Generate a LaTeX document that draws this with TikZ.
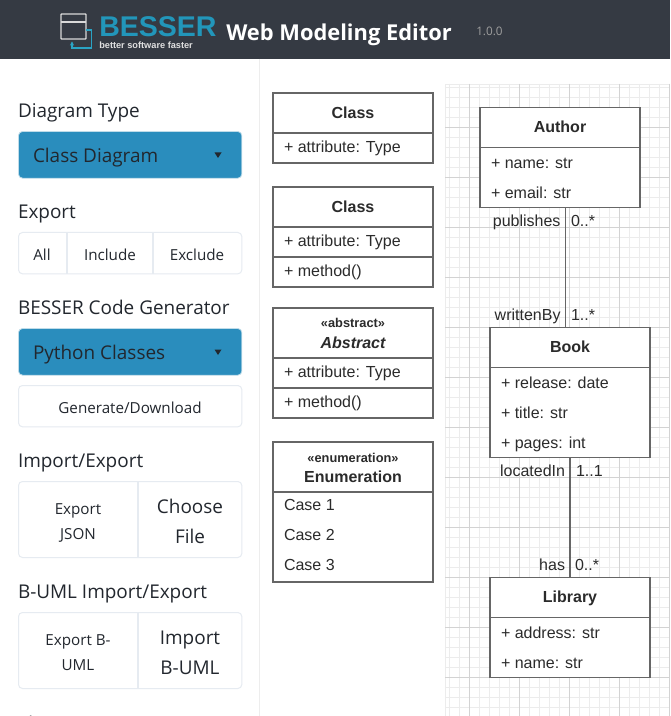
\documentclass[tikz,border=0pt]{standalone}
\usepackage{fontspec}
\usetikzlibrary{arrows.meta}
\setmainfont{Liberation Sans}
\newfontfamily\uifont{Open Sans}
\definecolor{headbg}{HTML}{353A43}
\definecolor{teal}{HTML}{2296BA}
\definecolor{logoline}{HTML}{2AA3C4}
\definecolor{blueb}{HTML}{2A8DBD}
\definecolor{bluee}{HTML}{BFDCE9}
\definecolor{uitext}{HTML}{22272E}
\definecolor{btnline}{HTML}{E6EBF1}
\definecolor{umlline}{HTML}{666666}
\definecolor{umltext}{HTML}{2B2B2B}
\definecolor{gridminor}{HTML}{ECECEC}
\definecolor{gridmajor}{HTML}{D3D3D3}
\tikzset{
  x=0.75pt,y=-0.75pt,
  umlbox/.style={draw=umlline,fill=white,line width=0.8pt,inner sep=0pt,outer sep=0pt,anchor=north west},
  umlrule/.style={draw=umlline,line width=0.8pt},
  txt/.style={inner sep=0pt,outer sep=0pt,text=umltext,yshift=-0.5pt},
  title/.style={txt,anchor=base,font=\fontsize{12}{14}\selectfont\bfseries},
  stereo/.style={txt,anchor=base,font=\fontsize{9.6}{11}\selectfont\bfseries},
  row/.style={txt,anchor=base west,font=\fontsize{12}{14}\selectfont},
  rowr/.style={txt,anchor=base east,font=\fontsize{12}{14}\selectfont},
  head/.style={inner sep=0pt,outer sep=0pt,yshift=-0.75pt,anchor=base west,text=uitext,font=\uifont\fontsize{14.2}{17}\selectfont},
  bluebtn/.style={fill=blueb,draw=bluee,line width=0.6pt,rounded corners=3pt,inner sep=0pt,outer sep=0pt,anchor=north west},
  bluetxt/.style={inner sep=0pt,outer sep=0pt,anchor=base west,text=uitext,font=\uifont\fontsize{14.2}{17}\selectfont},
  btn/.style={draw=btnline,fill=white,line width=0.75pt,rounded corners=3pt,inner sep=0pt,outer sep=0pt,anchor=north west},
  smalltxt/.style={inner sep=0pt,outer sep=0pt,anchor=base,text=uitext,font=\uifont\fontsize{11.4}{14}\selectfont},
  bigtxt/.style={inner sep=0pt,outer sep=0pt,anchor=base,text=uitext,font=\uifont\fontsize{14.2}{17}\selectfont},
  assoc/.style={draw=umlline,line width=0.8pt},
}
\begin{document}
\begin{tikzpicture}
\useasboundingbox (0,0) rectangle (670,716);
\clip (0,0) rectangle (670,716);
\fill[white] (0,0) rectangle (670,716);
% header
\fill[headbg] (0,0) rectangle (670,59);
\draw[white!85!black,line width=1.1pt,rounded corners=0.5pt] (61,14) rectangle (86,39);
\draw[white!85!black,line width=1.1pt] (61,22) -- (86,22);
\draw[logoline,line width=0.8pt,-{Stealth[length=3pt,width=3pt]}] (86,30) -- (91.5,30) -- (91.5,48) -- (72,48) -- (72,41.5);
\node[inner sep=0pt,anchor=base west,text=teal,font=\fontsize{21.4}{24}\selectfont\bfseries] (brand) at (99,37) {BESSER};
\node[inner sep=0pt,anchor=base west,text=white!88!black,font=\fontsize{6.9}{9}\selectfont\bfseries] (slogan) at (99,49) {better software faster};
\node[inner sep=0pt,anchor=base west,text=white,font=\uifont\fontsize{16.4}{20}\selectfont\bfseries] (apptitle) at (226,41) {Web Modeling Editor};
\node[inner sep=0pt,anchor=base west,text=white!62!black,font=\uifont\fontsize{8.8}{11}\selectfont] (version) at (476,36) {1.0.0};
% sidebar
\draw[black!7,line width=0.75pt] (259.5,59) -- (259.5,716);
\node[head] (h1) at (18,116.7) {Diagram Type};
\node[bluebtn,minimum width=167.5pt,minimum height=35pt] (b1) at (18.5,131.5) {};
\node[bluetxt] (b1t) at (33,162.5) {Class Diagram};
\fill[uitext] (214.5,152.5) -- (221.5,152.5) -- (218,158) -- cycle;
\node[head] (h2) at (18,217.7) {Export};
\node[btn,minimum width=167.5pt,minimum height=31pt] (g1) at (18.5,232.5) {};
\draw[btnline,line width=0.9pt] (67,232.5) -- (67,273.5) (153,232.5) -- (153,273.5);
\node[smalltxt] (all) at (42,260.7) {All};
\node[smalltxt] (incl) at (110,260.7) {Include};
\node[smalltxt] (excl) at (197,260.7) {Exclude};
\node[head] (h3) at (18,313) {BESSER Code Generator};
\node[bluebtn,minimum width=167.5pt,minimum height=35pt] (b2) at (18.5,328.5) {};
\node[bluetxt] (b2t) at (33,359) {Python Classes};
\fill[uitext] (214.5,349.5) -- (221.5,349.5) -- (218,355) -- cycle;
\node[btn,minimum width=167.5pt,minimum height=31pt] (g2) at (18.5,385.5) {};
\node[smalltxt] (gen) at (130,413) {Generate/Download};
\node[head] (h4) at (18,466.7) {Import/Export};
\node[btn,minimum width=167.5pt,minimum height=57pt] (g3) at (18.5,481.5) {};
\draw[btnline,line width=0.9pt] (138,481.5) -- (138,557.5);
\node[smalltxt] (ej1) at (78,514) {Export};
\node[smalltxt] (ej2) at (78,539) {JSON};
\node[bigtxt] (cf1) at (190,513) {Choose};
\node[bigtxt] (cf2) at (190,543) {File};
\node[head] (h5) at (18,597) {B-UML Import/Export};
\node[btn,minimum width=167.5pt,minimum height=57pt] (g4) at (18.5,612.5) {};
\draw[btnline,line width=0.9pt] (138,612.5) -- (138,688.5);
\node[smalltxt] (eb1) at (78,645) {Export B-};
\node[smalltxt] (eb2) at (78,670) {UML};
\node[bigtxt] (ib1) at (190,644) {Import};
\node[bigtxt] (ib2) at (190,674) {B-UML};
\node[head] (h6) at (18,729) {Theming};
% grid
\foreach \gx in {449,459,...,669} \draw[gridminor,line width=0.75pt] (\gx.5,84) -- (\gx.5,716);
\foreach \gy in {87,97,...,707} \draw[gridminor,line width=0.75pt] (445,\gy.5) -- (670,\gy.5);
\draw[gridminor,line width=0.75pt] (670,84.5) -- (445.5,84.5) -- (445.5,716);
\foreach \gx in {469,519,...,669} \draw[gridmajor,line width=0.75pt] (\gx.5,84) -- (\gx.5,716);
\foreach \gy in {127,177,...,677} \draw[gridmajor,line width=0.75pt] (445,\gy.5) -- (670,\gy.5);
% palette
\node[umlbox,minimum width=120pt,minimum height=52.5pt] (p1) at (273,93) {};
\draw[umlrule] (p1.west |- 0,133) -- (p1.east |- 0,133);
\node[title] (p1t) at (353,117.5) {Class};
\node[row] (p1a) at (284,151.5) {+ attribute: Type};
\node[umlbox,minimum width=120pt,minimum height=75pt] (p2) at (273,187) {};
\draw[umlrule] (p2.west |- 0,227) -- (p2.east |- 0,227) (p2.west |- 0,257) -- (p2.east |- 0,257);
\node[title] (p2t) at (353,211.5) {Class};
\node[row] (p2a) at (284,245.5) {+ attribute: Type};
\node[row] (p2m) at (284,275.5) {+ method()};
\node[umlbox,minimum width=120pt,minimum height=82.5pt] (p3) at (273,308) {};
\draw[umlrule] (p3.west |- 0,358) -- (p3.east |- 0,358) (p3.west |- 0,388) -- (p3.east |- 0,388);
\node[stereo] (p3s) at (353,327) {«abstract»};
\node[title,font=\fontsize{12}{14}\selectfont\bfseries\itshape] (p3t) at (353,347.5) {Abstract};
\node[row] (p3a) at (284,376.5) {+ attribute: Type};
\node[row] (p3m) at (284,406.5) {+ method()};
\node[umlbox,minimum width=120pt,minimum height=105pt] (p4) at (273,442) {};
\draw[umlrule] (p4.west |- 0,492) -- (p4.east |- 0,492);
\node[stereo] (p4s) at (353,461.5) {«enumeration»};
\node[title] (p4t) at (353,481.5) {Enumeration};
\node[row] (p4a) at (284,510.3) {Case 1};
\node[row] (p4b) at (284,540.3) {Case 2};
\node[row] (p4c) at (284,570.3) {Case 3};
% model
\node[umlbox,minimum width=120pt,minimum height=75pt] (author) at (480,107.5) {};
\draw[umlrule] (author.west |- 0,147.5) -- (author.east |- 0,147.5);
\node[title] (at) at (560,131.7) {Author};
\node[row] (a1) at (491,167.7) {+ name: str};
\node[row] (a2) at (491,197.7) {+ email: str};
\node[umlbox,minimum width=120pt,minimum height=97.5pt] (book) at (490,327.5) {};
\draw[umlrule] (book.west |- 0,367.5) -- (book.east |- 0,367.5);
\node[title] (bt) at (570,351.7) {Book};
\node[row] (b1r) at (501,387.7) {+ release: date};
\node[row] (b2r) at (501,417.7) {+ title: str};
\node[row] (b3r) at (501,447.7) {+ pages: int};
\node[umlbox,minimum width=120pt,minimum height=75pt] (lib) at (490,577.5) {};
\draw[umlrule] (lib.west |- 0,617.5) -- (lib.east |- 0,617.5);
\node[title] (lt) at (570,601.7) {Library};
\node[row] (l1) at (501,637.7) {+ address: str};
\node[row] (l2) at (501,667.7) {+ name: str};
\coordinate (c1) at (565.5,0);
\draw[assoc] (author.south -| c1) -- (book.north -| c1);
\draw[assoc] (book.south) -- (lib.north);
\node[rowr] (e1) at (560.5,226) {publishes};
\node[row] (e2) at (571,226) {0..*};
\node[rowr] (e3) at (560.5,319.4) {writtenBy};
\node[row] (e4) at (571,319.4) {1..*};
\node[rowr] (e5) at (565,475.4) {locatedIn};
\node[row] (e6) at (576,475.4) {1..1};
\node[rowr] (e7) at (565,569.4) {has};
\node[row] (e8) at (575,569.4) {0..*};
\end{tikzpicture}
\end{document}
